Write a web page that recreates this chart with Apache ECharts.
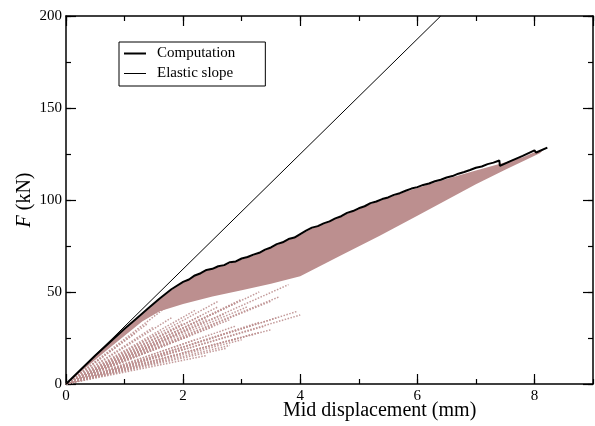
<!DOCTYPE html>
<html>
<head>
<meta charset="utf-8">
<script src="https://cdn.jsdelivr.net/npm/echarts@6/dist/echarts.min.js"></script>
<style>html,body{margin:0;padding:0;background:#fff}#c{width:595px;height:426px}</style>
</head>
<body>
<div id="c"></div>
<script>
// ---- data ----
const xTicks = [0, 2, 4, 6, 8];
const yTicks = [0, 50, 100, 150, 200];
const legendNames = ['Computation', 'Elastic slope'];

// Computation: force (kN) vs mid displacement (mm)
const computation = [
  [0,0],[0.5,15.5],[1.0,30],[1.2,35.5],[1.4,41],[1.6,46.5],[1.8,51.5],[2.0,55.5],
  [2.1,56.8],[2.2,59],[2.3,60.2],[2.4,62],[2.5,62.6],[2.6,64],[2.7,64.6],[2.8,66.2],
  [2.9,66.6],[3.0,68.2],[3.1,69],[3.2,70.3],[3.3,71.3],[3.4,73],[3.5,74.2],[3.6,76],
  [3.7,77],[3.8,78.8],[3.9,79.6],[4.0,81.5],[4.1,83.4],[4.2,85],[4.3,85.8],[4.4,87.3],
  [4.5,88.4],[4.6,90],[4.7,91.2],[4.8,93],[4.9,94],[5.0,95.5],[5.1,96.6],[5.2,98.3],
  [5.3,99.2],[5.4,100.5],[5.5,101.4],[5.6,102.8],[5.7,103.7],[5.8,105],[5.9,106.2],
  [6.0,107],[6.1,108.2],[6.2,109],[6.3,110.2],[6.4,111],[6.5,112.2],[6.6,113],
  [6.7,114.3],[6.8,115.2],[6.9,116.3],[7.0,117.5],[7.1,118.2],[7.2,119.5],[7.3,120.3],
  [7.4,121.5],[7.41,118.5],[7.6,121.3],[7.8,124],[8.0,127],[8.03,125.8],[8.22,128.5]
];

// Elastic slope line
const elastic = [[0,0],[6.4,200]];

// Dense region of the pink cloud (outline, upper edge then lower edge)
const denseRegion = [
  [0,0],[0.5,15.3],[1.0,29.6],[1.2,35],[1.4,40.5],[1.6,46],[1.8,51],[2.0,55],
  [2.2,58.5],[2.4,61.5],[2.6,63.5],[2.8,65.5],[3.0,67.7],[3.2,69.8],[3.4,72.5],
  [3.6,75.5],[3.8,78.3],[4.0,81],[4.2,84.5],[4.4,86.8],[4.6,89.5],[4.8,92.5],
  [5.0,95],[5.2,97.8],[5.4,100],[5.6,102.3],[5.8,104.5],[6.0,106.5],[6.2,108.5],
  [6.4,110.5],[6.6,112.3],[7.0,116],[7.4,119.5],[7.8,123.2],[8.0,126],[8.15,127.3],
  [8.1,125.5],[7.5,116.5],[7.0,108.5],[6.5,100],[6.0,91.5],[5.35,80.5],[4.7,70],
  [4.0,58.5],[3.5,54.5],[3.0,51],[2.5,47.5],[2.0,43.5],[1.6,39.5],[1.3,34],[0.8,21]
];

// Sparse dotted rays below the dense cloud: [x0, y0, x1, y1]
const rays = [
  [0,0,2.4,15.5],[0,0,2.75,19.5],[0,0,2.8,21],[0,0,3.0,24],[0,0,3.5,29.5],
  [0,0,3.3,28],[0,0,3.95,39.5],[0,0,4.0,37.5],[0,0,3.65,47.5],[0,0,2.8,35],
  [0,0,3.3,33.5],[0,0,2.2,24],[0,0,2.0,19],[0,0,1.7,13],[0,0,2.5,31],
  [0,0,2.3,37],[0,0,2.0,33],[0,0,1.8,36],[0,0,1.5,31],[0,0,2.6,42],
  [0,0,3.0,46],[0,0,1.2,28],[0,0,3.2,27],[0,0,2.9,31.5],[0,0,1.9,27],
  [0,0,2.2,40],[0,0,2.6,45],[0,0,3.3,50],[0,0,3.8,54],[0,0,2.4,35],
  [0,0,2.7,38],[0,0,3.1,42],[0,0,3.5,45],[0,0,1.6,22],[0,0,1.4,18],
  [0,0,1.6,28],[0,0,2.1,30],[0,0,1.3,12],[0,0,1.0,10],[0,0,3.6,36],
  [0,0,3.4,31.5],[0,0,1.8,44],[0,0,1.4,33],[0,0,2.9,44],[0,0,2.1,26]
];

// ---- chart ----
const FONT = 'Liberation Serif';
const PINK = '#bc8f8f';
const chart = echarts.init(document.getElementById('c'), null, {renderer: 'canvas'});

function xAxisDef(pos, interval, len, showLine, showLabel) {
  return {
    type: 'value', position: pos, min: 0, max: 9, interval: interval,
    axisLine: {show: showLine, onZero: false, lineStyle: {color: '#000', width: 1.5}},
    axisTick: {show: true, inside: true, length: len, lineStyle: {color: '#000', width: 1.2}},
    axisLabel: {show: showLabel, showMaxLabel: false, color: '#000', fontFamily: FONT, fontSize: 15, margin: 5,
      formatter: v => xTicks.indexOf(v) >= 0 ? String(v) : ''},
    splitLine: {show: false}
  };
}
function yAxisDef(pos, interval, len, showLine, showLabel) {
  return {
    type: 'value', position: pos, min: 0, max: 200, interval: interval,
    axisLine: {show: showLine, onZero: false, lineStyle: {color: '#000', width: 1.5}},
    axisTick: {show: true, inside: true, length: len, lineStyle: {color: '#000', width: 1.2}},
    axisLabel: {show: showLabel, color: '#000', fontFamily: FONT, fontSize: 15, margin: 4,
      formatter: v => yTicks.indexOf(v) >= 0 ? String(v) : ''},
    splitLine: {show: false}
  };
}

const raySeries = rays.map(r => ({
  type: 'line', name: 'ray', xAxisIndex: 0, yAxisIndex: 0,
  data: [[r[0], r[1]], [r[2], r[3]]],
  symbol: 'none', silent: true, z: 2,
  lineStyle: {color: PINK, width: 1.5, type: [1.5, 1.5], opacity: 0.9}
}));

const option = {
  animation: false,
  backgroundColor: '#fff',
  grid: {left: 66, right: 2, top: 16, bottom: 42, outerBoundsMode: 'none'},
  xAxis: [
    xAxisDef('bottom', 2, 10, true, true),
    xAxisDef('bottom', 1, 5, false, false),
    xAxisDef('top', 2, 10, true, false),
    xAxisDef('top', 1, 5, false, false)
  ],
  yAxis: [
    yAxisDef('left', 50, 10, true, true),
    yAxisDef('left', 25, 5, false, false),
    yAxisDef('right', 50, 10, true, false),
    yAxisDef('right', 25, 5, false, false)
  ],
  legend: {
    orient: 'vertical', left: 119, top: 42,
    padding: [4, 30, 5, 5], itemWidth: 22, itemHeight: 14, itemGap: 5,
    borderColor: '#000', borderWidth: 1, backgroundColor: '#fff',
    itemStyle: {color: '#000'},
    textStyle: {fontFamily: FONT, fontSize: 15, color: '#000', padding: [0, 0, 0, 6]},
    data: [
      {name: legendNames[0], icon: 'path://M0,0H22V2H0Z'},
      {name: legendNames[1], icon: 'path://M0,0H22V1H0Z'}
    ]
  },
  graphic: [
    {type: 'text', left: 283, top: 401, z: 10,
      style: {text: 'Mid displacement (mm)', fontFamily: FONT, fontSize: 20, fill: '#000'}},
    {type: 'text', x: 25, y: 200, rotation: Math.PI / 2, z: 10,
      style: {text: '{i|F} (kN)', fontFamily: FONT, fontSize: 20, fill: '#000', align: 'center', verticalAlign: 'middle',
        rich: {i: {fontFamily: FONT, fontSize: 20, fontStyle: 'italic', fill: '#000'}}}}
  ],
  series: [
    {
      type: 'custom', name: 'cloud', xAxisIndex: 0, yAxisIndex: 0, silent: true, z: 1,
      data: denseRegion,
      renderItem: function (params, api) {
        if (params.dataIndex !== 0) return null;
        const pts = denseRegion.map(p => api.coord(p));
        return {type: 'polygon', shape: {points: pts}, style: {fill: PINK}};
      },
      clip: true
    },
    ...raySeries,
    {
      type: 'line', name: 'Elastic slope', xAxisIndex: 0, yAxisIndex: 0,
      data: elastic, symbol: 'none', z: 5, clip: true, color: '#000',
      lineStyle: {color: '#000', width: 1}
    },
    {
      type: 'line', name: 'Computation', xAxisIndex: 0, yAxisIndex: 0,
      data: computation, symbol: 'none', z: 6, color: '#000',
      lineStyle: {color: '#000', width: 2}
    }
  ]
};
chart.setOption(option);
</script>
</body>
</html>
